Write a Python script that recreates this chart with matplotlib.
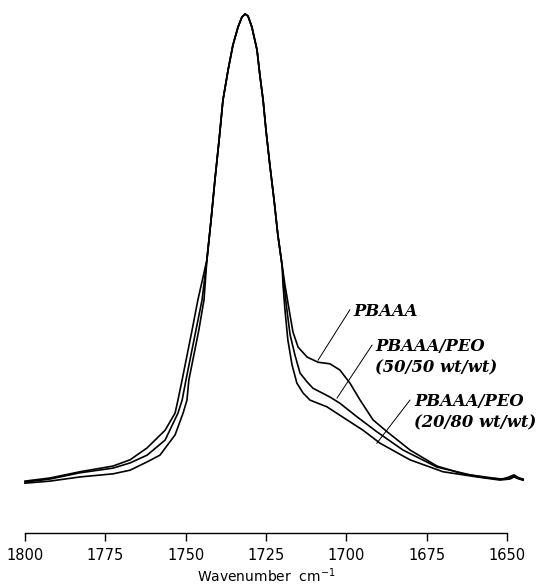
import numpy as np
import matplotlib
matplotlib.use('Agg')
import matplotlib.pyplot as plt

# carbonyl band, normalised absorbance
wn_pbaaa = [1800.0, 1792.2, 1782.9, 1772.6, 1767.3, 1762.0, 1756.4, 1753.3, 1752.4, 1751.1, 1748.0, 1746.2,
            1743.4, 1742.1, 1740.9, 1739.6, 1738.4, 1736.8, 1735.3, 1733.7, 1732.5, 1731.5,
            1730.6, 1729.4, 1727.8, 1726.9, 1725.9, 1725.0, 1723.8, 1722.5, 1721.3, 1720.0,
            1719.1, 1717.8, 1716.6, 1715.0, 1712.2, 1708.8, 1705.1, 1702.0, 1698.9, 1695.7,
            1691.7, 1687.3, 1680.2, 1671.8, 1663.7, 1656.2, 1651.2, 1649.4, 1647.8, 1646.3, 1645.0]
a_pbaaa = [0.100, 0.106, 0.118, 0.129, 0.141, 0.164, 0.198, 0.231, 0.256, 0.295, 0.391, 0.449,
           0.526, 0.603, 0.680, 0.757, 0.834, 0.892, 0.940, 0.975, 0.994, 1.000,
           0.996, 0.975, 0.931, 0.882, 0.834, 0.776, 0.709, 0.642, 0.574, 0.516,
           0.478, 0.430, 0.387, 0.358, 0.339, 0.329, 0.326, 0.314, 0.289, 0.256,
           0.218, 0.195, 0.160, 0.129, 0.114, 0.106, 0.104, 0.108, 0.112, 0.106, 0.104]

wn_5050 = [1800.0, 1792.2, 1782.9, 1772.6, 1767.3, 1762.0, 1756.4, 1752.4, 1751.1, 1749.9, 1746.8, 1744.9,
           1743.4, 1742.1, 1740.9, 1739.6, 1738.4, 1736.8, 1735.3, 1733.7, 1732.5, 1731.5,
           1730.6, 1729.4, 1727.8, 1726.9, 1725.9, 1725.0, 1723.8, 1722.5, 1721.3, 1720.0,
           1719.4, 1718.5, 1717.5, 1716.0, 1714.4, 1712.2, 1710.4, 1705.1, 1702.0, 1696.7,
           1690.5, 1682.4, 1671.8, 1661.5, 1652.2, 1649.1, 1647.8, 1646.3, 1645.0]
a_5050 = [0.098, 0.104, 0.116, 0.125, 0.135, 0.150, 0.179, 0.231, 0.256, 0.295, 0.391, 0.449,
          0.526, 0.603, 0.680, 0.757, 0.834, 0.892, 0.940, 0.975, 0.994, 1.000,
          0.996, 0.975, 0.931, 0.882, 0.834, 0.776, 0.709, 0.642, 0.574, 0.516,
          0.478, 0.430, 0.382, 0.343, 0.308, 0.291, 0.279, 0.262, 0.250, 0.224,
          0.195, 0.160, 0.127, 0.112, 0.104, 0.106, 0.110, 0.106, 0.102]

wn_2080 = [1800.0, 1792.2, 1782.9, 1772.6, 1767.3, 1762.0, 1758.0, 1753.3, 1750.8, 1749.6, 1749.0, 1745.9, 1744.3,
           1743.4, 1742.1, 1740.9, 1739.6, 1738.4, 1736.8, 1735.3, 1733.7, 1732.5, 1731.5,
           1730.6, 1729.4, 1727.8, 1726.9, 1725.9, 1725.0, 1723.8, 1722.5, 1721.3, 1720.0,
           1719.7, 1719.1, 1718.2, 1716.9, 1715.4, 1713.5, 1711.3, 1706.0, 1699.8, 1694.8,
           1689.5, 1680.2, 1669.9, 1659.3, 1652.2, 1649.1, 1647.8, 1646.3, 1645.0]
a_2080 = [0.096, 0.100, 0.108, 0.114, 0.121, 0.137, 0.150, 0.189, 0.231, 0.256, 0.295, 0.391, 0.449,
          0.526, 0.603, 0.680, 0.757, 0.834, 0.892, 0.940, 0.975, 0.994, 1.000,
          0.996, 0.975, 0.931, 0.882, 0.834, 0.776, 0.709, 0.642, 0.574, 0.516,
          0.478, 0.430, 0.372, 0.324, 0.289, 0.270, 0.256, 0.243, 0.218, 0.198,
          0.173, 0.141, 0.118, 0.108, 0.102, 0.104, 0.108, 0.104, 0.102]

xticks = [1800, 1775, 1750, 1725, 1700, 1675, 1650]

# labels: text lines, text anchor, leader line (curve end, text end)
labels = [(['PBAAA'], (1697.9, 0.426), (1708.8, 0.333), (1698.9, 0.430)),
          (['PBAAA/PEO', '(50/50 wt/wt)'], (1691.1, 0.360), (1702.9, 0.260), (1692.0, 0.362)),
          (['PBAAA/PEO', '(20/80 wt/wt)'], (1678.9, 0.254), (1690.5, 0.173), (1680.2, 0.256))]


fig = plt.figure(figsize=(5.4, 5.87), dpi=100)
ax = fig.add_axes([25/540, 1 - 533/587, 482/540, 519/587])

for wn, a in [(wn_pbaaa, a_pbaaa), (wn_5050, a_5050), (wn_2080, a_2080)]:
    ax.plot(wn, a, color='k', lw=1.2, clip_on=False, solid_joinstyle='round')

font = dict(family='DejaVu Serif', style='italic', weight='bold', size=11.8)
for lines, (tx, ty), p0, p1 in labels:
    ax.plot([p0[0], p1[0]], [p0[1], p1[1]], color='k', lw=0.7)
    for i, s in enumerate(lines):
        ax.text(tx, ty - i*0.041, s, ha='left', va='center', **font)

ax.set_xlim(1800, 1650)
ax.set_ylim(0, 1)
for side in ['top', 'left', 'right']:
    ax.spines[side].set_visible(False)
ax.spines['bottom'].set_linewidth(1.0)
ax.set_yticks([])
ax.set_xticks(xticks)
ax.tick_params(axis='x', direction='out', length=6, width=1.0, pad=5, labelsize=10.5)
ax.set_xlabel(r'Wavenumber  cm$^{-1}$', fontsize=10, labelpad=2)

fig.savefig('out.png', dpi=100)
